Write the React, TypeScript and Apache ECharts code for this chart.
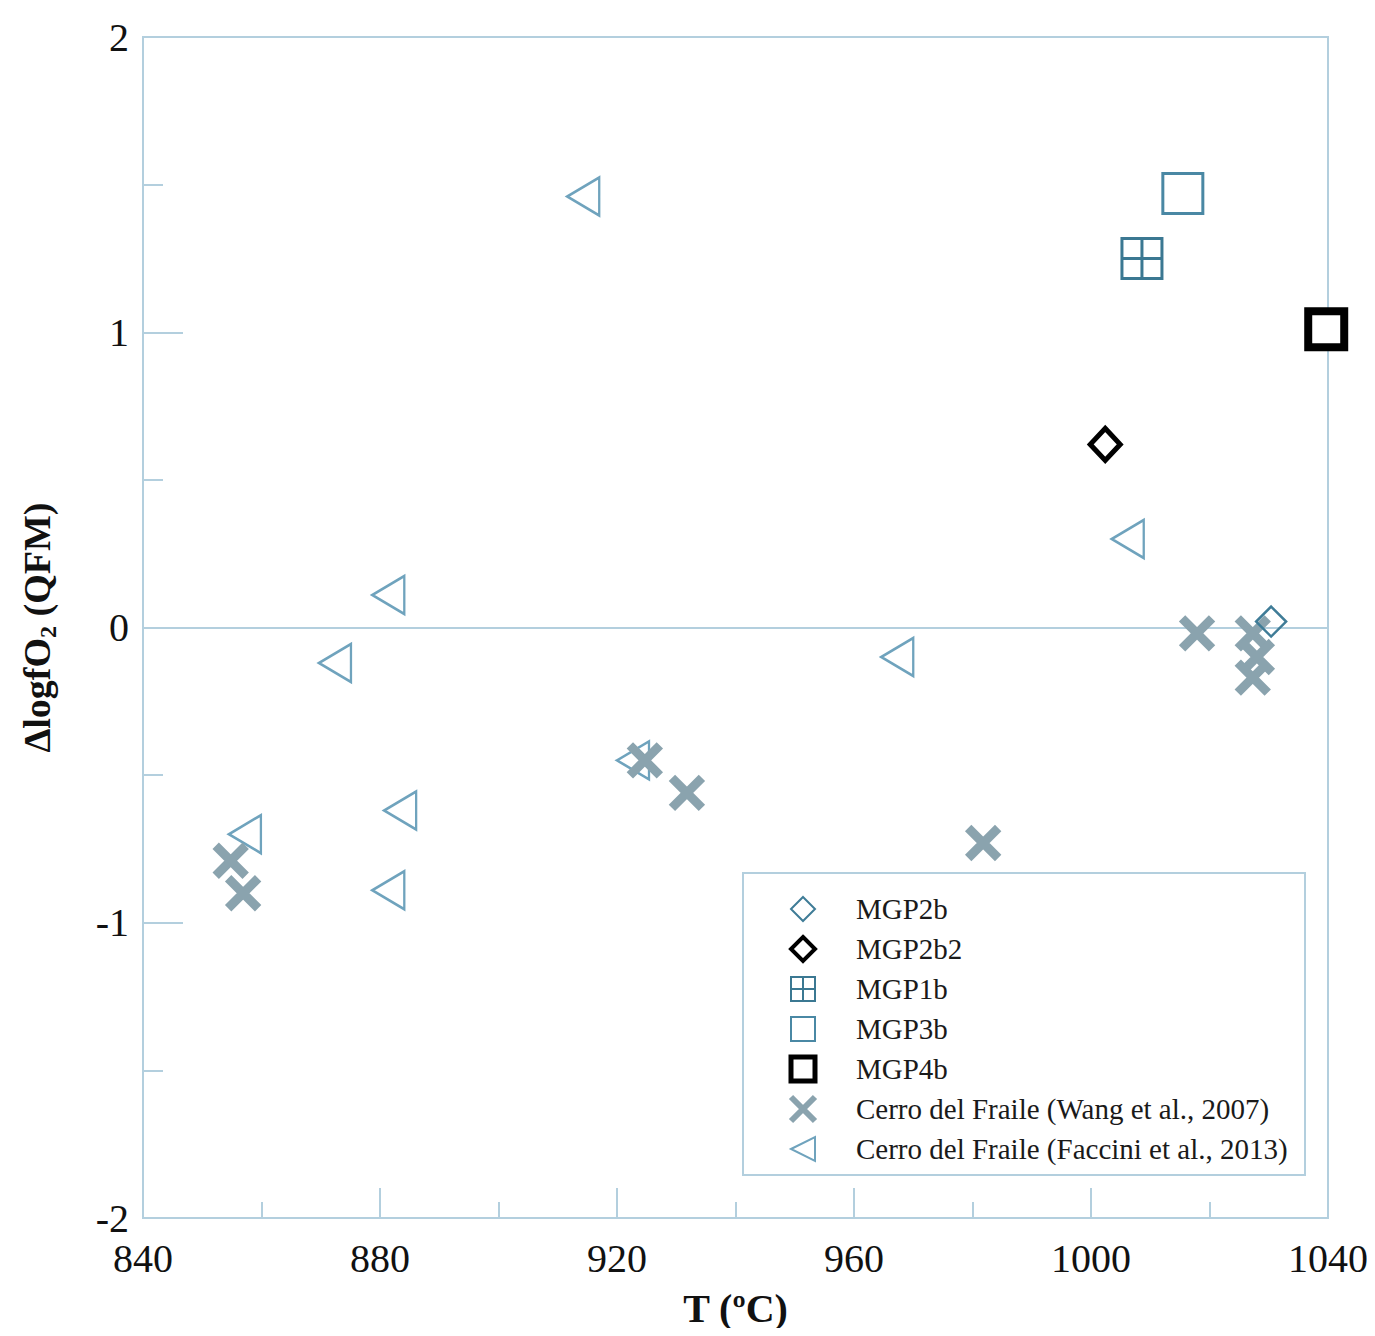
import React, { useEffect, useRef } from "react";
import * as echarts from "echarts";

// ---- Data (T in °C, ΔlogfO2 relative to QFM) ----
const mgp2b: [number, number][] = [[1030.4, 0.02]];
const mgp2b2: [number, number][] = [[1002.4, 0.62]];
const mgp1b: [number, number][] = [[1008.6, 1.25]];
const mgp3b: [number, number][] = [[1015.5, 1.47]];
const mgp4b: [number, number][] = [[1039.7, 1.01]];
const wang2007: [number, number][] = [
  [854.8, -0.79],
  [856.9, -0.9],
  [924.7, -0.45],
  [931.8, -0.56],
  [981.8, -0.73],
  [1017.9, -0.02],
  [1027.3, -0.02],
  [1028.0, -0.1],
  [1027.3, -0.17],
];
const faccini2013: [number, number][] = [
  [914.3, 1.46],
  [1006.2, 0.3],
  [881.4, 0.11],
  [872.4, -0.12],
  [967.3, -0.1],
  [922.7, -0.45],
  [883.4, -0.62],
  [881.4, -0.89],
  [857.2, -0.7],
];
const xTicks = { min: 840, max: 1040, interval: 40 };
const yTicks = { min: -2, max: 2, interval: 1 };

const BLUE = "#6fa3bd";
const AXIS = "#b3cfde";
const XGRAY = "#8aa3ae";
const FONT = "Liberation Serif, Times New Roman, serif";

const X_PATH = "path://M0,0L10,10M10,0L0,10";
const TRI_LEFT = "path://M0,5L10,0L10,10Z";
const SQ_CROSS = "path://M0,0H10V10H0Z M5,0V10 M0,5H10";

export default function App() {
  const ref = useRef<HTMLDivElement>(null);
  useEffect(() => {
    if (!ref.current) return;
    const chart = echarts.init(ref.current, undefined, { renderer: "svg" });
    const hollow = { color: "rgba(255,255,255,0)", borderColor: BLUE, opacity: 1 };
    chart.setOption({
      animation: false,
      backgroundColor: "#ffffff",
      textStyle: { fontFamily: FONT },
      grid: {
        left: 143,
        right: 47,
        top: 37,
        bottom: 118,
        show: true,
        borderColor: AXIS,
        borderWidth: 2,
        backgroundColor: "transparent",
      },
      xAxis: {
        type: "value",
        min: xTicks.min,
        max: xTicks.max,
        interval: xTicks.interval,
        name: "T (ºC)",
        nameLocation: "middle",
        nameGap: 70,
        nameTextStyle: { fontFamily: FONT, fontSize: 40, fontWeight: "bold", color: "#111" },
        axisLine: { onZero: false, lineStyle: { color: AXIS, width: 2 } },
        axisTick: { inside: true, length: 30, lineStyle: { color: AXIS, width: 2 } },
        minorTick: { show: true, splitNumber: 2, length: 16, lineStyle: { color: AXIS, width: 2 } },
        splitLine: { show: false },
        axisLabel: {
          fontFamily: FONT,
          fontSize: 40,
          color: "#111",
          margin: 20,
          formatter: (v: number) => String(v),
        },
      },
      yAxis: {
        type: "value",
        min: yTicks.min,
        max: yTicks.max,
        interval: yTicks.interval,
        name: "{a|ΔlogfO}{s|2}{a| (QFM)}",
        nameLocation: "middle",
        nameGap: 84,
        nameTextStyle: {
          rich: {
            a: { fontFamily: FONT, fontSize: 38, fontWeight: "bold", color: "#111", lineHeight: 44 },
            s: { fontFamily: FONT, fontSize: 24, fontWeight: "bold", color: "#111", lineHeight: 24, padding: [22, 0, 0, 0] },
          },
        },
        axisLine: { onZero: false, lineStyle: { color: AXIS, width: 2 } },
        axisTick: { inside: true, length: 40, lineStyle: { color: AXIS, width: 2 } },
        minorTick: { show: true, splitNumber: 2, length: 20, lineStyle: { color: AXIS, width: 2 } },
        splitLine: { show: false },
        axisLabel: { fontFamily: FONT, fontSize: 40, color: "#111", margin: 14 },
      },
      legend: {
        orient: "vertical",
        left: 788,
        top: 893,
        padding: 0,
        itemGap: 8,
        itemWidth: 24,
        itemHeight: 24,
        z: 10,
        textStyle: { fontFamily: FONT, fontSize: 29, lineHeight: 32, color: "#1a1a1a", padding: [0, 0, 0, 36] },
        data: [
          { name: "MGP2b", itemStyle: { borderWidth: 2 } },
          { name: "MGP2b2", itemStyle: { borderWidth: 4 } },
          { name: "MGP1b", itemStyle: { borderWidth: 2 } },
          { name: "MGP3b", itemStyle: { borderWidth: 2 } },
          { name: "MGP4b", itemStyle: { borderWidth: 5 } },
          { name: "Cerro del Fraile (Wang et al., 2007)", itemStyle: { borderWidth: 6 } },
          { name: "Cerro del Fraile (Faccini et al., 2013)", itemStyle: { borderWidth: 2 } },
        ],
      },
      graphic: [
        {
          type: "rect",
          z: 5,
          shape: { x: 743, y: 873, width: 562, height: 302 },
          style: { fill: "#ffffff", stroke: AXIS, lineWidth: 2 },
        },
      ],
      series: [
        {
          name: "Cerro del Fraile (Faccini et al., 2013)",
          type: "scatter",
          data: faccini2013,
          symbol: TRI_LEFT,
          symbolSize: [32, 38],
          symbolKeepAspect: false,
          itemStyle: { ...hollow, borderWidth: 2.5 },
          markLine: {
            silent: true,
            symbol: "none",
            label: { show: false },
            lineStyle: { color: AXIS, width: 2, type: "solid" },
            data: [{ yAxis: 0 }],
            z: 1,
          },
        },
        {
          name: "Cerro del Fraile (Wang et al., 2007)",
          type: "scatter",
          data: wang2007,
          symbol: X_PATH,
          symbolSize: 30,
          itemStyle: { color: "none", borderColor: XGRAY, borderWidth: 9, opacity: 1 },
        },
        {
          name: "MGP2b",
          type: "scatter",
          data: mgp2b,
          symbol: "diamond",
          symbolSize: [30, 30],
          itemStyle: { ...hollow, borderWidth: 2.5, borderColor: "#3f7c97" },
        },
        {
          name: "MGP2b2",
          type: "scatter",
          data: mgp2b2,
          symbol: "diamond",
          symbolSize: [30, 32],
          itemStyle: { color: "#ffffff", borderColor: "#000", borderWidth: 5, opacity: 1 },
        },
        {
          name: "MGP1b",
          type: "scatter",
          data: mgp1b,
          symbol: SQ_CROSS,
          symbolSize: 40,
          itemStyle: { color: "rgba(255,255,255,0)", borderColor: "#3b7892", borderWidth: 3, opacity: 1 },
        },
        {
          name: "MGP3b",
          type: "scatter",
          data: mgp3b,
          symbol: "rect",
          symbolSize: 40,
          itemStyle: { ...hollow, borderColor: "#4a88a4", borderWidth: 3 },
        },
        {
          name: "MGP4b",
          type: "scatter",
          data: mgp4b,
          symbol: "rect",
          symbolSize: 36,
          itemStyle: { color: "#ffffff", borderColor: "#000", borderWidth: 8, opacity: 1 },
        },
      ],
    });
    return () => chart.dispose();
  }, []);
  return <div ref={ref} style={{ width: 1375, height: 1336, margin: -8 }} />;
}
